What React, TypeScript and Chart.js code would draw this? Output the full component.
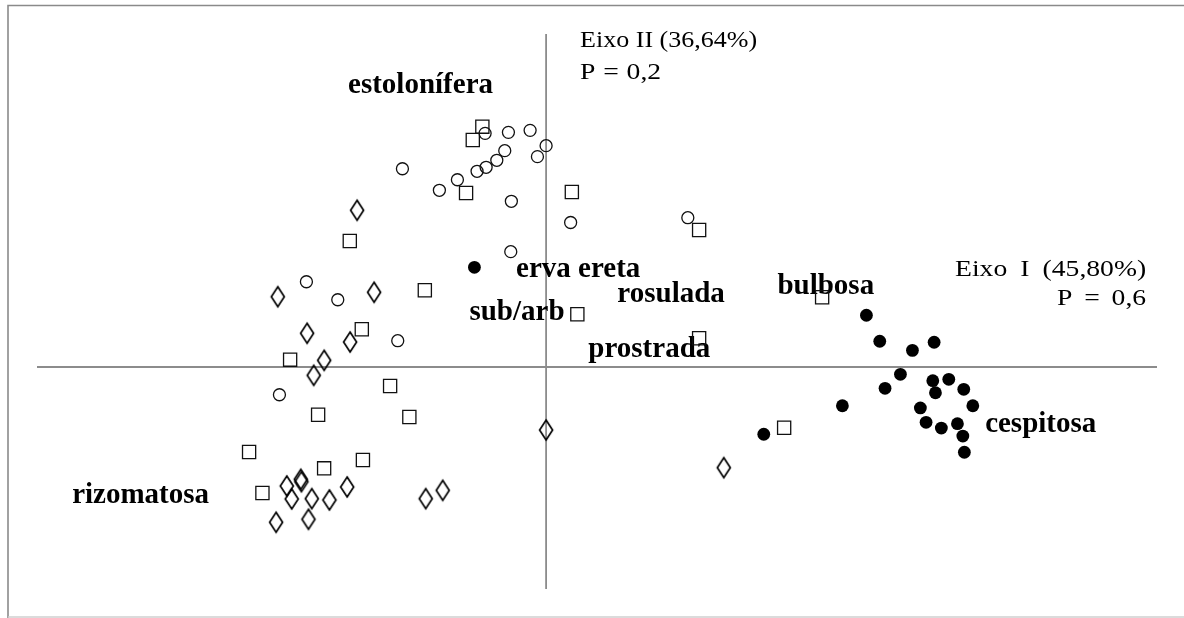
import { useEffect, useRef } from "react";
import { Chart, registerables } from "chart.js";

Chart.register(...registerables);

// Ordination scores (Eixo I, Eixo II) grouped by marker shape
const openCircles: [number, number][] = [
  [-0.599, 2.105], [-0.370, 2.114], [-0.157, 2.132], [0.0, 1.994], [-0.085, 1.895],
  [-0.406, 1.949], [-0.484, 1.862], [-0.589, 1.799], [-0.678, 1.763], [-0.871, 1.687],
  [-1.048, 1.592], [-1.411, 1.786], [-0.341, 1.493], [-0.347, 1.039], [0.241, 1.302],
  [1.392, 1.345], [-2.354, 0.768], [-2.046, 0.606], [-1.457, 0.237], [-2.619, -0.250],
];

const openSquares: [number, number][] = [
  [-0.626, 2.165], [-0.720, 2.045], [-0.786, 1.568], [0.253, 1.577], [-1.928, 1.135],
  [1.503, 1.234], [-1.191, 0.691], [0.307, 0.475], [-1.810, 0.340], [-2.514, 0.066],
  [2.711, 0.628], [1.503, 0.259], [-1.532, -0.171], [-2.239, -0.430], [-1.343, -0.450],
  [2.338, -0.547], [-2.917, -0.766], [-1.799, -0.838], [-2.180, -0.913], [-2.786, -1.135],
];

const openDiamonds: [number, number][] = [
  [-1.856, 1.412], [-2.635, 0.633], [-1.689, 0.673], [-2.347, 0.304], [-1.925, 0.225],
  [-2.180, 0.060], [-2.282, -0.075], [0.0, -0.568], [1.745, -0.907], [-2.409, -1.012],
  [-2.403, -1.033], [-2.547, -1.072], [-2.498, -1.189], [-2.301, -1.186], [-2.128, -1.198],
  [-1.954, -1.081], [-1.182, -1.186], [-1.015, -1.111], [-2.652, -1.399], [-2.334, -1.372],
];

const filledCircles: [number, number][] = [
  [-0.704, 0.898], [3.146, 0.466], [3.277, 0.232], [3.598, 0.150], [3.811, 0.223],
  [3.480, -0.066], [3.329, -0.192], [3.798, -0.123], [3.955, -0.111], [3.824, -0.232],
  [4.102, -0.201], [4.191, -0.349], [3.676, -0.369], [2.910, -0.349], [3.732, -0.498],
  [3.882, -0.550], [4.040, -0.511], [4.093, -0.622], [4.108, -0.768], [2.138, -0.606],
];

// Axis extents
const axisX = { min: -5, max: 6 };
const axisY = { min: -2, max: 3 };

// Growth-form names and axis captions, anchored at (left, baseline) in axis units
type Caption = { text: string; x: number; y: number; bold: boolean; width?: number };
const captions: Caption[] = [
  { text: "estolonífera", x: -1.945, y: 2.468, bold: true },
  { text: "erva ereta", x: -0.295, y: 0.808, bold: true },
  { text: "sub/arb", x: -0.753, y: 0.423, bold: true },
  { text: "rosulada", x: 0.700, y: 0.588, bold: true },
  { text: "bulbosa", x: 2.272, y: 0.658, bold: true },
  { text: "prostrada", x: 0.415, y: 0.093, bold: true },
  { text: "cespitosa", x: 4.312, y: -0.583, bold: true },
  { text: "rizomatosa", x: -4.655, y: -1.222, bold: true },
  { text: "Eixo II (36,64%)", x: 0.334, y: 2.880, bold: false, width: 177 },
  { text: "P = 0,2", x: 0.334, y: 2.592, bold: false, width: 81 },
  { text: "Eixo I (45,80%)", x: 4.017, y: 0.820, bold: false, width: 191 },
  { text: "P = 0,6", x: 5.019, y: 0.559, bold: false, width: 89 },
];

const toPoints = (arr: [number, number][]) => arr.map(([x, y]) => ({ x, y }));

function makeDiamond(): HTMLCanvasElement {
  const c = document.createElement("canvas");
  c.width = 18;
  c.height = 26;
  const g = c.getContext("2d")!;
  g.strokeStyle = "#000";
  g.lineWidth = 1.7;
  g.lineJoin = "miter";
  g.beginPath();
  g.moveTo(9, 3);
  g.lineTo(15.5, 13);
  g.lineTo(9, 23);
  g.lineTo(2.5, 13);
  g.closePath();
  g.stroke();
  return c;
}

// Draws a caption stretched to the wanted width: glyphs widen a little,
// the remainder goes into the gaps between words
function drawCaption(ctx: CanvasRenderingContext2D, c: Caption, px: number, py: number) {
  if (!c.width) {
    ctx.fillText(c.text, px, py);
    return;
  }
  const natural = ctx.measureText(c.text).width;
  const sx = Math.min(c.width / natural, 1.15);
  const words = c.text.split(" ");
  const gaps = words.length - 1;
  const extra = gaps > 0 ? Math.max(0, c.width / sx - natural) / gaps : 0;
  const space = ctx.measureText(" ").width + extra;
  ctx.save();
  ctx.translate(px, py);
  ctx.scale(sx, 1);
  let x = 0;
  for (const w of words) {
    ctx.fillText(w, x, 0);
    x += ctx.measureText(w).width + space;
  }
  ctx.restore();
}

const framePlugin = {
  id: "frameAndAxes",
  beforeDatasetsDraw(chart: any) {
    const { ctx, chartArea, scales } = chart;
    const W = chart.width;
    const H = chart.height;
    ctx.save();
    // outer frame
    ctx.strokeStyle = "#8a8a8a";
    ctx.lineWidth = 1.6;
    ctx.beginPath();
    ctx.moveTo(W, 5.5);
    ctx.lineTo(8, 5.5);
    ctx.lineTo(8, H);
    ctx.stroke();
    ctx.strokeStyle = "#cfcfcf";
    ctx.lineWidth = 1.4;
    ctx.beginPath();
    ctx.moveTo(8, H - 1);
    ctx.lineTo(W, H - 1);
    ctx.stroke();

    // ordination axes through the origin
    const x0 = scales.x.getPixelForValue(0);
    const y0 = scales.y.getPixelForValue(0);
    ctx.strokeStyle = "#8c8c8c";
    ctx.lineWidth = 1.8;
    ctx.beginPath();
    ctx.moveTo(chartArea.left, y0);
    ctx.lineTo(chartArea.right, y0);
    ctx.moveTo(x0, chartArea.top);
    ctx.lineTo(x0, chartArea.bottom);
    ctx.stroke();

    // captions
    ctx.fillStyle = "#000";
    ctx.textBaseline = "alphabetic";
    ctx.textAlign = "left";
    for (const c of captions) {
      const px = scales.x.getPixelForValue(c.x);
      const py = scales.y.getPixelForValue(c.y);
      ctx.font = c.bold ? "bold 29px 'Liberation Serif'" : "24px 'Liberation Serif'";
      drawCaption(ctx, c, px, py);
    }
    ctx.restore();
  },
};

export default function App() {
  const ref = useRef<HTMLCanvasElement>(null);

  useEffect(() => {
    if (!ref.current) return;
    const diamond = makeDiamond();
    const outline = "#111";
    const chart = new Chart(ref.current, {
      type: "scatter",
      data: {
        datasets: [
          {
            label: "círculos",
            data: toPoints(openCircles),
            pointStyle: "circle",
            pointRadius: 6,
            borderWidth: 1.3,
            borderColor: outline,
            backgroundColor: "rgba(0,0,0,0)",
          },
          {
            label: "quadrados",
            data: toPoints(openSquares),
            pointStyle: "rect",
            pointRadius: 9.3,
            borderWidth: 1.3,
            borderColor: outline,
            backgroundColor: "rgba(0,0,0,0)",
          },
          {
            label: "losangos",
            data: toPoints(openDiamonds),
            pointStyle: diamond,
            pointRadius: 10,
          },
          {
            label: "círculos cheios",
            data: toPoints(filledCircles),
            pointStyle: "circle",
            pointRadius: 6.4,
            borderWidth: 0,
            backgroundColor: "#000",
          },
        ],
      },
      options: {
        responsive: false,
        animation: false,
        layout: { padding: { left: 37, right: 27, top: 34, bottom: 29 } },
        plugins: {
          legend: { display: false },
          tooltip: { enabled: false },
        },
        scales: {
          x: { type: "linear", min: axisX.min, max: axisX.max, display: false },
          y: { type: "linear", min: axisY.min, max: axisY.max, display: false },
        },
      },
      plugins: [framePlugin],
    });
    return () => chart.destroy();
  }, []);

  return (
    <div style={{ position: "fixed", left: 0, top: 0, width: 1184, height: 618, background: "#fff" }}>
      <canvas ref={ref} width={1184} height={618} />
    </div>
  );
}
